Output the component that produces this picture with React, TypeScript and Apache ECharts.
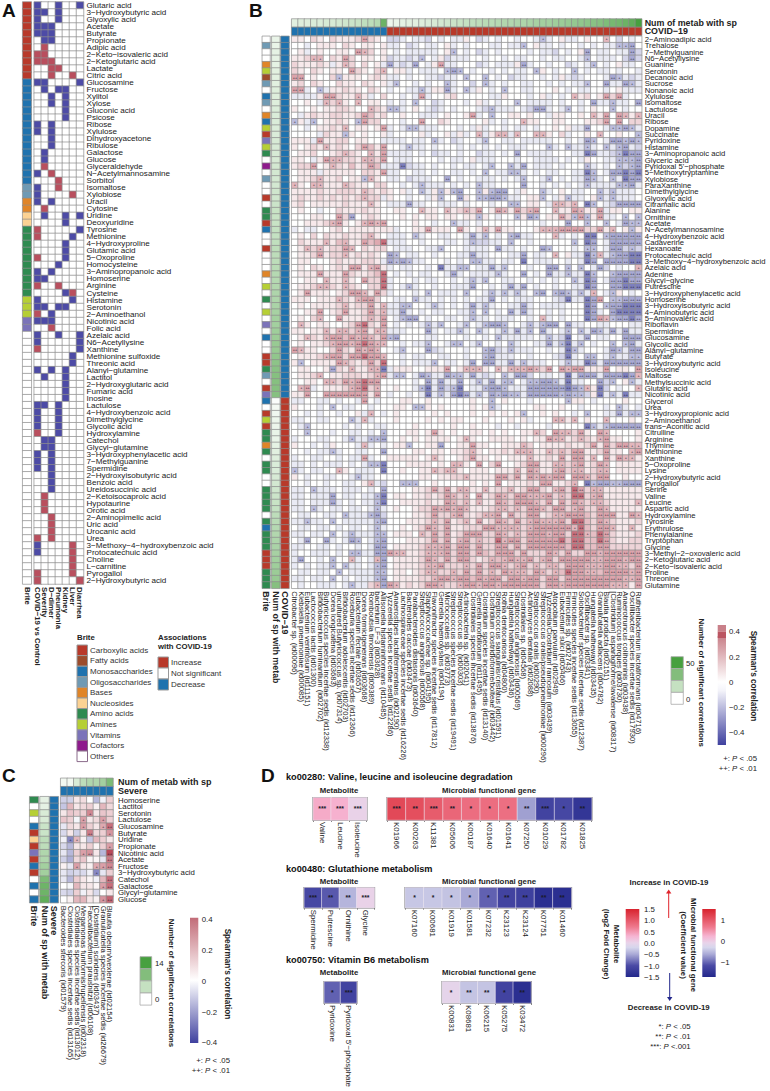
import React, { useEffect, useRef } from "react";
import * as echarts from "echarts";

const FONT = '"Liberation Sans", Arial, sans-serif';
const M = "\u2212";

// ---------- shared palettes ----------
const briteNames = ["Carboxylic acids","Fatty acids","Monosaccharides","Oligosaccharides","Bases","Nucleosides","Amino acids","Amines","Vitamins","Cofactors","Others"];
const briteColors: Record<string,string> = { C:"#b8392a", F:"#9c4c2c", M:"#1f72ae", O:"#6f9ab4", B:"#e08528", N:"#fcd293", A:"#2f8a50", H:"#b6cf35", V:"#7b73b9", K:"#8e1a8c", W:"#ffffff" };

// ---------- panel A ----------
const aRows = ["Glutaric acid","3-Hydroxybutyric acid","Glyoxylic acid","Acetate","Butyrate","Propionate","Adipic acid","2-Keto-isovaleric acid","2-Ketoglutaric acid","Lactate","Citric acid","Glucosamine","Fructose","Xylitol","Xylose","Gluconic acid","Psicose","Ribose","Xylulose","Dihydroxyacetone","Ribulose","Galactose","Glucose","Glyceraldehyde","N-Acetylmannosamine","Sorbitol","Isomaltose","Xylobiose","Uracil","Cytosine","Uridine","Deoxyuridine","Tyrosine","Methionine","4-Hydroxyproline","Glutamic acid","5-Oxoproline","Homocysteine","3-Aminopropanoic acid","Homoserine","Arginine","Cysteine","Histamine","Serotonin","2-Aminoethanol","Nicotinic acid","Folic acid","Azelaic acid","N6-Acetyllysine","Xanthine","Methionine sulfoxide","Threonic acid","Alanyl-glutamine","Lactitol","2-Hydroxyglutaric acid","Fumaric acid","Inosine","Lactulose","4-Hydroxybenzoic acid","Dimethylglycine","Glycolic acid","Hydroxylamine","Catechol","Glycyl-glutamine","3-Hydroxyphenylacetic acid","7-Methylguanine","Spermidine","2-Hydroxyisobutyric acid","Benzoic acid","Ureidosuccinic acid","2-Ketoisocaproic acid","Hypotaurine","Orotic acid","2-Aminopimelic acid","Uric acid","Urocanic acid","Urea","3-Methoxy-4-hydroxybenzoic acid","Protocatechuic acid","Choline","L-carnitine","Pyrogallol","2-Hydroxybutyric acid"];
const aCols = ["COVID-19 vs Control","Severity","D-dimer","Pneumonia","Kidney","Liver","Diarrhea"];
const aBrite = "CCCCCCCCCCCMMMMMMMMMMMMMMMOOBBNNAAAAAAAAAAHHHVV" + "W".repeat(36);
// one string per metabolite: . none, b decrease, r increase
const aAssoc = ["b..b..b","bb.b...","b..b...","bbb....","bbb....",".bb....",".r.....","rr.....","rrr....","..rr...","..r..r.","bb....b",".b.bb..","..b.b..","..b.b..","....b..","....b..","b.b....","b.b....","..b....","..b....",".b.....",".b.....",".r.....","b.r....","...r...","b..r...","b....r.","b.b....",".r.....",".b..b.b","....b..","r.....b","r....b.","....b..","....b..","r...b..","...b...","b.b....","bb.....","r..r...","....br.","b....b.","bb.bb..","r.b....","bbb....","..r....","b..b..b","b.....b","r.....b",".....b.",".....b.","b.b.b..",".b..b..","....b..","....b..","....b..","bb.b...","b..b...","b..b...","b..b...","r..b...",".bb....",".bb....","b.b....","b.b....","b.b....","..b....","..b....","..b....",".r.....",".r.....",".r.....","..r....","..r....","..r....","r.r....","b....r.","b....r.",".....r.",".....r.","r....r.","r.....r"];

// ---------- panel B ----------
const bRows = ["2-Aminoadipic acid","Trehalose","7-Methylguanine","N6-Acetyllysine","Guanine","Serotonin","Decanoic acid","Sucrose","Nonanoic acid","Xylulose","Isomaltose","Lactulose","Uracil","Ribose","Dopamine","Succinate","Pyridoxine","Histamine","3-Aminopropanoic acid","Glyceric acid","Pyridoxal 5'-phosphate","5-Methoxytryptamine","Xylobiose","ParaXanthine","Dimethylglycine","Glyoxylic acid","Citramalic acid","Alanine","Ornithine","Acetate","N-Acetylmannosamine","4-Hydroxybenzoic acid","Cadaverine","Hexanoate","Protocatechuic acid","3-Methoxy-4-hydroxybenzoic acid","Azelaic acid","Adenine","Glycyl-glycine","Putrescine","3-Hydroxyphenylacetic acid","Homoserine","3-Hydroxyisobutyric acid","4-Aminobutyric acid","5-Aminovaleric acid","Riboflavin","Spermidine","Glucosamine","Glycolic acid","Alanyl-glutamine","Butyrate","3-Hydroxybutyric acid","Isoleucine","Maltose","Methylsuccinic acid","Glutaric acid","Nicotinic acid","Glycerol","Urea","3-Hydroxypropionic acid","2-Aminoethanol","trans-Aconitic acid","Citrulline","Arginine","Thymine","Methionine","Xanthine","5-Oxoproline","Lysine","2-Hydroxybutyric acid","Pyrogallol","Serine","Valine","Leucine","Aspartic acid","Hydroxylamine","Tyrosine","Erythrulose","Phenylalanine","Tryptophan","Glycine","3-Methyl-2-oxovaleric acid","2-Ketoglutaric acid","2-Keto-isovaleric acid","Proline","Threonine","Glutamine"];
const bCols = ["Citrobacter sp. (id00096)","Klebsiella pneumoniae (id00085)","Eubacterium ventriosum (id11151)","Lactococcus lactis (id01300)","Bifidobacterium ruminantium (id02702)","Butyricicoccus species incertae sedis (id12338)","Dorea longicatena (id03683)","uncultured Butyricicoccus sp. (id07314)","Bifidobacterium adolescentis (id02703)","Roseburia species incertae sedis (id12366)","Eubacterium rectale (id03657)","Dorea formicigenerans (id03668)","Romboutsia timonensis (id09389)","bacterium LF-3 (id03628)","Allisonella histaminiformans (id10485)","Tyzzerella species incertae sedis (id12286)","Anaerostipes lactatifermentans (id02190)","Lachnospiraceae species incertae sedis (id16226)","Bacteroides caccae (id03473)","Parabacteroides distasonis (id03640)","Streptococcus anginosus (id00568)","Staphylococcaceae sp. (id04195)","Flavonifractor species incertae sedis (id17812)","Gemella haemolysans (id04194)","Micrococcales sp. (id03773)","Streptococcus species incertae sedis (id19491)","Streptococcus sp. (id00303)","Actinobacteria sp. (id02041)","Clostridiales species incertae sedis (id13876)","Gemella morbillorum (id11495)","Clostridium species incertae sedis (id13140)","Clostridium clostridioforme/bolteae (id03442)","Streptococcus sanguinis/cristatus (id01591)","Rothia dentocariosa (id04800)","Hungatella hathewayi (id03436)","Streptococcus anginosus (id00569)","Clostridiales sp. (id04568)","Actinomyces dentalis (id02088)","Streptococcus oralis (id00290)","Streptococcus oralis/pseudopneumoniae (id00296)","Tyzzerella/Clostridium ramosum (id03439)","Atopobium parvulum (id02949)","Eubacterium sulci (id05466)","Firmicutes sp. (id02743)","Firmicutes species incertae sedis (id13055)","Solobacterium species incertae sedis (id12387)","Oscillibacter sp. (id03341)","Hungatella hathewayi (id03435)","Granulicatella adiacens (id04782)","Blautia producta (id02151)","[Clostridium] asparagiforme/lavalense (id08317)","Ruminococcus torques (id03730)","Anaerotruncus colihominis (id03438)","Oscillibacter species incertae sedis (id17930)","Ruthenibacterium lactatiformans (id04716)"];
const bBrite = "WOWWBHFOWMOWBMHCVHAWKWOWWCWAACMWWCWWWBWHWAWHWVWMWWCCAOWCVMWCHCAABAWAAWWAAAAWAMAAACCCAAA".slice(0,87);
const bNumRow = [6,6,7,7,7,8,8,8,9,9,9,10,10,10,10,10,11,11,11,11,12,12,12,12,13,13,14,15,15,15,16,16,17,18,18,18,19,20,20,21,22,22,23,24,25,25,26,27,28,28,30,31,32,33,33,33,33,1,3,4,5,5,6,6,7,8,9,10,10,11,12,13,14,15,16,18,19,20,21,22,23,24,25,26,27,28,33];
const bNumCol = [8,9,9,10,10,11,11,12,13,14,15,17,18,20,40,5,6,7,8,8,9,10,11,12,13,14,15,16,17,18,19,19,20,21,21,22,22,23,24,25,25,26,27,28,29,30,31,32,33,35,37,38,40,43,50];
const bCovidCol = "b".repeat(15) + "r".repeat(40);
// background correlation per cell, digit d means (d-4)*0.045
const bCorr = [
"55465 46555 65654 22343 32434 33542 34344 34435 34533 45443 42434","44345 55465 45545 33423 43345 34344 43343 34453 34344 34343 33434","45345 44554 65645 43433 33345 34342 34344 44343 32434 56433 43332","55654 46556 45545 23323 44352 33344 34434 33443 43344 35433 34232","65556 53566 46453 53234 43543 34442 34333 54344 34423 43443 45334","65465 45545 65465 45534 33344 33434 43434 33445 43444 43433 43443",
"65454 46455 54565 33434 43323 34344 34342 33443 43532 34443 33323","56465 44655 46545 33443 43445 34424 33434 43344 34343 33444 33223","65346 35565 54654 34433 43553 34335 43434 43344 45434 33443 45333","33335 65655 65346 44343 43445 64444 43354 44345 34344 56453 63344","44543 56454 54554 34343 44234 44345 34344 44333 34344 34333 43342","54454 55665 44565 33345 43234 34443 23333 43243 34344 34544 34344",
"43565 56655 66756 44544 33345 44533 45445 54544 35544 54656 46554","35354 55654 56664 44344 44465 44444 53434 43554 45544 45565 44466","44345 56554 55454 34334 33344 43435 34434 33434 45453 33443 34333","44443 65565 45445 34444 53445 35344 35443 34444 54634 45434 45443","55532 55664 55443 33343 34434 23443 34433 43333 34434 33443 33233","54565 65654 65754 44343 34344 43434 34343 33444 43433 34343 33332",
"45564 45656 54555 33334 34233 43442 33434 34333 34443 33433 23322","55435 55466 56563 43334 44434 33453 33444 34433 33434 35443 33232","56654 56657 56673 33423 34344 34334 35443 34433 34344 44343 43222","45553 55555 46654 33443 34344 33434 34334 43434 33443 34343 22322","45565 55645 57654 33423 33443 43443 33434 33443 34343 33434 33222","65454 55566 55466 44343 43334 34344 33444 43443 43434 34333 33233",
"55556 55666 55656 54534 43545 35445 54544 35445 34543 34443 33334","56556 56565 65663 54434 43554 44544 45453 34554 43543 34543 33334","56455 55565 55654 33343 34433 34344 43443 34554 34666 43443 22332","45443 44655 56554 45544 55545 56564 45645 56654 45555 55553 55455","44455 44565 45654 44545 45545 54554 54344 55654 55565 54563 34443","44555 66654 56665 44445 44344 53343 44444 44443 44434 43443 43333",
"34334 45645 55555 53445 54555 44545 55555 44455 56666 56665 44545","45464 65565 56554 33343 34433 44343 34345 43344 43343 43443 22333","46555 65765 57786 33344 34443 34332 23343 44344 44443 43443 22322","45565 56665 46566 43334 43334 44333 34333 43443 34443 43443 33232","45565 56655 65654 33433 44344 43343 34443 33433 44453 34443 23222","45544 45655 56653 33333 34443 43443 33433 43433 34434 33443 22332",
"45465 45656 65665 34334 43433 33443 34344 44344 33444 44342 43443","45554 55566 55675 43434 33443 33433 33434 43434 43343 34344 22333","44554 45565 46664 34443 43344 34323 44433 44343 43443 34443 22322","45565 56556 54664 34343 44344 33334 43434 33434 43443 34344 22222","45655 54566 66566 34443 43433 34344 34343 33434 43443 43343 55434","55545 55665 56664 43343 33434 34343 33434 33344 43243 33434 22332",
"45455 55655 66654 33444 43334 34343 33443 34343 33344 43443 22222","44554 45665 56664 33434 34334 43334 34343 33344 34344 43434 22222","45464 44655 56664 43333 43443 34333 34333 44343 34344 43444 32222","46545 54456 67654 43434 34344 43343 33434 43432 23433 34433 44433","55455 65566 66565 33344 43343 34344 34343 33344 34344 43433 43233","45565 56676 67764 33444 43344 44344 34433 33343 33234 34433 44233",
"45455 66766 76664 44343 33443 33433 44343 34433 43333 34344 44233","65554 46665 66654 43344 43234 44344 33234 33344 34333 34443 43332","45556 66767 77654 44343 34433 44344 34333 44344 43233 44343 33344","55455 55666 56764 44343 33443 34344 33333 34333 44333 33433 23222","45544 54654 55654 35554 45556 45655 54555 56656 54666 55555 45545","45564 45566 65653 34343 33334 33343 23443 33243 34333 43333 22222",
"44554 56666 77754 44443 43323 33433 34333 43343 33323 34442 44533","45634 55565 76654 45443 54342 33433 43333 33332 23323 33532 43445","55644 66676 67544 34434 33343 33333 33343 33333 33332 32543 43433","33443 34344 35434 44554 45444 44454 44454 44344 44455 54344 44544","54443 45433 44344 45544 55454 44454 54344 44455 44544 34443 44343","44343 44344 53443 45444 44545 44454 45454 54445 45443 44443 33333",
"33443 34443 35344 45444 45454 55444 54445 45344 46454 45444 44454","43344 44434 34433 44445 44444 54454 44344 34444 34444 44433 22222","44344 43443 34343 44455 45554 54455 45454 45556 46656 55446 44445","34443 34434 33333 44545 45555 45654 45555 45455 56456 46556 55445","54434 35444 34343 45534 45554 45565 54455 55645 55565 56556 66556","44343 34344 33443 44445 54554 55655 45565 55455 56566 65565 55456",
"34433 44343 34344 55555 45554 45665 54545 55655 65656 45645 56655","33434 33343 43332 44455 55454 66545 46544 56645 56565 65665 45555","33433 44354 33342 44544 55565 55455 54555 55665 55566 65665 45555","54344 33443 43344 44444 55455 66555 55666 65656 66646 65666 44544","44344 34433 45332 44433 44544 44454 54645 55654 45565 45454 23333","33443 33433 34342 44445 56565 55555 55665 56656 56667 66665 55555",
"33433 34433 43342 45545 56565 56545 56666 65666 66667 76665 55555","33433 34343 43342 44555 56555 66655 55666 66656 65666 76656 55556","33443 43343 34343 45445 66566 66655 56566 56666 65667 66665 55555","43344 33433 33242 44445 56566 55656 56656 66655 66667 77666 65556","33433 43433 33343 44455 56565 56655 56666 66666 66667 77656 65556","43343 34343 34343 44545 66566 55666 66666 66666 66667 77667 65555",
"33433 43433 33342 45554 56566 56666 66566 66666 66667 77766 65556","43344 33433 34342 44455 56566 56666 66676 66666 66677 77766 65566","33443 34344 34332 45555 66666 66666 66676 66666 66677 77767 66666","34433 34343 33332 66655 66676 66666 76666 66666 66676 66666 66666","33443 43443 34342 45555 66566 66665 66766 66666 66766 66776 66666","34343 34433 34332 45555 66666 66566 66666 66666 66666 66666 66666",
"43343 34343 33342 45545 66566 66665 67666 56676 66766 66776 66666","33433 43434 33342 45555 66666 66676 66766 66666 66676 66676 66666","43443 33434 33652 66565 66676 66676 67767 66676 66666 66676 66656"];
// significant cells: column + kind (a/b/B positive +, ++, strong ++; x/y/Y negative +, ++, strong ++)
const bSig = [
"11b 39x 49a","36x 51x 52x 53y","10b 11a 25x 46y 53y","3a 4a 8b 20x 46x 53y","8a 15y 19y 23b 36y 47x","9b 14a 24x 25y 26x 38x 44x","0b 1b 7x 27x 30x 50y 51x","16x 24x 30x 46x 49y 52y 53x","0b 1b 4x 20x 24y 27x 33x","5b 6b 10a 20b 44a 49b 51b","5a 7a 10a 19x 35x 47y 50x 54y","12a 15x 16x 31x 38y 39y 43x 50x",
"11b 28b 31x 47a 49b 51b 52a 54a","0x 3x 10x 11b 20b 36a 49b 51b","8a 14b 18x 19x 46y 50x 51x 52y 53x","8x 29a 32a 33a 35a 38a 39a 48a 54x","4b 22x 30x 46y 47x 50y 51y 52x 53y 54x","5a 11b 14b 18x 40x 43x 46x 49x 51x 52y","8a 12a 14b 35y 46Y 47y 51x 52Y 53y 54y","5b 6a 7a 11a 12a 14b 51x 52x 53x 54y","3b 6a 12b 17Y 31x 34x 36y 46x 51x 53x 54y","14b 30x 34x 35x 46Y 47x 50y 51y 52Y 53y 54Y",
"4a 11x 12a 24y 36x 40x 46y 47x 50x 52Y 53y 54y","0a 3a 4a 8a 20x 29x 36y 46x 51x 52x 53y","11a 20x 23x 25x 26y 29x 31x 32y 33y 39x 48x 50x","11a 23x 26y 29x 30x 31y 32y 33x 39x 43x 48x 50x","12a 18y 34x 35x 41a 42a 44a 46Y 47x 51y 52y 53y 54y","20a 24a 27a 29b 32b 33a 35b 37a 38b 41a 44b 45a 48b","7b 9y 29x 35x 37y 38x 42b 44x 45b 46x 48b 52x 54x","6a 7b 11a 12b 13a 14b 25x 43y 46x 49x 52y 53x 54x","21b 26b 30a 32b 39a 40a 41a 42b 43b 44b 45b 48b 50a 53x",
"12a 19x 28y 30x 34x 35y 41a 46Y 47Y 49x 50y 51y 52y 53y 54y","5a 8a 11b 14B 28x 34x 44x 46Y 47y 50y 51y 52y 53y 54y","2a 4a 8b 9a 23x 32y 39y 40x 46x 47x 50y 51y 53x","4b 8a 15y 16x 28y 36y 41a 46Y 47x 48a 50x 51y 52y 53Y 54Y","15y 16x 17y 18x 28x 29x 36Y 46Y 47y 49y 50y 51y 52y 53Y 54Y","9b 10b 12a 13b 23Y 26x 27x 31y 33x 40y 41y 43x 45x 48y 54a","4b 8b 14B 25y 32x 36y 40y 43x 46Y 47x 50x 51y 52y 53y 54y","5a 8a 11b 14B 28x 30x 44x 46Y 47y 50y 51y 52Y 53y 54y","4a 5a 8a 14B 18x 28y 34y 36y 46Y 47y 50y 51y 52Y 53Y 54Y",
"2b 9b 10b 11a 13b 21x 27x 31x 33x 35x 38x 39y 41x 42y 43x 45x 47a 50x","7a 10a 11b 12b 19x 31y 43Y 46Y 47y 48b 50x 51x 52y 53y 54y","8a 12b 14a 17x 18x 22x 28y 30x 36y 46Y 47y 49x 50y 51y 52Y 53Y 54Y","4b 8b 12b 14a 17y 28x 30x 34y 36y 46Y 47y 50y 51Y 52Y 53Y 54Y","4a 7b 12a 14b 17x 18y 19y 28x 39a 46Y 47y 48b 49a 50x 51y 52y 53Y 54y","1a 10b 11B 14b 21x 23x 27x 30x 31y 32y 33x 37x 39x 40y 41y 43y","5a 7a 8a 10a 11b 13a 14a 21y 26x 29x 33x 35y 37x 39y 43x 45x 47y 48x 50y 52y",
"2a 5a 6b 7b 9b 10a 11b 12a 14b 15x 16y 32x 40x 43Y 46y 52y 53y 54y","6a 7b 8b 9a 10b 11B 12b 13a 14a 21x 25x 26x 29x 34x 40y 42x 43Y 45x 50x 52x 53y","0b 1a 7b 10b 11a 12b 13a 17x 21y 30x 31y 34x 43Y 44x 50y 51x 53y 54y","5a 6b 7b 9b 10b 11B 12b 13b 14a 30x 31y 43Y 46x 47x 50x 53x 54x","1x 7b 8a 12b 14B 22x 28y 30y 31y 34y 36x 43x 46Y 47y 49y 50y 51y 52y 53y 54y","6y 9a 12a 13a 14Y 24b 27a 28a 29a 32a 34a 35a 36a 37b 38a 40b 42b 43a 44b 45b 49b 54b",
"4a 13a 14b 16x 17x 20y 21x 24y 25x 26x 28y 33x 35y 36y 43Y 45y 46y 47y 49y 50y 51y 52Y 53y 54a","5a 6a 8b 9a 10b 11B 12b 13b 21y 23y 26y 29x 31y 33x 34x 37x 38x 39y 40y 41x 43Y 48y 50x 53x","1a 2b 9a 10b 11B 13a 20x 21Y 23y 25x 26Y 30x 31y 32y 33x 37y 38y 39y 40y 41y 42y 43Y 44y 45x 46a 48Y 54a","2b 5b 6b 7b 8b 9b 10b 11b 13b 21Y 23x 25y 26Y 27y 29x 31y 32x 33y 34x 35x 37y 38y 39y 40y 41y 42x 43y 44x 45x 48Y 50x 52Y",
"11b 31x 43x","6x 19x 20x 31x 51x","12a 36x 46x 51y 53x 54x","9x 11a 41a 42a 44a 49a","2x 46Y 47x 49x 50y 51y 52y 53y 54y","2x 14x 22b 38a 41b 42a 43a 45b 48b 49a","9x 12x 13x 14y 27a 40b 41a 42a 45a 48a 49b","11a 18x 23y 28b 36a 47b 49b 51b 52b 53a 54a","6x 14y 28a 35a 36a 37a 40a 42a 44b 45b 49b 53a 54b","11b 22a 28b 37a 42b 44b 45b 47a 49b 51b 52a 53a",
"12x 13x 14Y 25a 26a 29b 32b 37b 38b 41a 42a 44a 45b 48b 49a","0x 7a 14Y 22a 24a 25a 35a 37b 38a 41a 42b 44a 45a 48a 49a","10x 27a 32b 33b 35b 37b 38a 39b 40a 41b 42b 44b 45b 46a 48b 49b","12a 17x 18x 19x 32b 39b 40b 44a 46Y 47x 48y 49y 50x 51x 52y 53y 54y","3x 14y 22b 24b 26a 27a 30a 34a 37b 38b 41a 42b 44B 45b 47a 48a","6y 13x 14Y 24b 25a 27a 29b 32b 33a 35b 36b 37a 38a 39a 40b 42a 44B 45B 47a 48b",
"6y 13x 14Y 24b 25a 27a 29a 32b 33a 35b 36b 37b 38a 40b 42b 44b 45a 47a 48a 54a","3x 13x 22b 23a 24b 25a 26b 27a 32a 33a 35a 37b 38b 39a 41b 42b 44a 45b 48b 49a","8x 12x 13y 22b 25a 26b 30a 31a 32b 34b 37b 38b 41a 42a 43b 44b 45b 48b 49b 50b 53b 54a","2x 6x 13x 14y 22a 24b 27a 29b 32b 33a 35b 37a 38b 39a 40a 41a 42b 44B 45B 48b 49a","13x 21b 22a 24b 30b 31b 32a 33a 34a 35a 37a 38b 39b 40b 41b 42b 43b 44a 45B 48b 49b 50a 53a",
"6x 9x 13x 14x 20a 22b 24b 27b 28b 29b 32b 33a 35a 37b 38b 39b 40a 41b 42b 44B 45B 46a 48B 49b","2y 5y 9y 10x 13x 14y 22b 24b 26a 27b 29a 32B 33a 34b 35b 37b 38b 39b 40b 41b 42B 44B 45B 48B 49b","13y 14y 21a 22a 23a 24b 26b 27b 29b 32b 33b 35b 37b 38b 39b 40b 41b 42b 44B 45B 48b 49b",
"9x 10x 13y 14y 15b 16a 17a 21a 22a 23a 24b 26b 27b 29b 32b 33b 34b 36b 40b 41a 43b 46b 47b 48a 49b 50b 51b 52b 53b 54b","1y 6x 9a 13a 14y 21b 22a 24b 26b 27b 31a 33a 34b 35a 36a 37b 39a 40b 42b 43b 44b 45b 46b 47a 48a 49b 50b 51b 52a 53b 54b","6x 8x 13x 14y 21a 22a 23b 27a 29b 31b 32b 33a 35a 36b 38a 40a 41a 43b 44b 45b 46a 47a 48a 49b 50b 51a 52a 54b","7x 13x 14x 21a 22a 25a 27b 29b 31a 33b 34a 35a 36a 38b 39a 41a 43B 44b 45b 46a 47a 49b 50b 51b 52b 53a 54b","6x 13x 14y 22a 23b 24b 25a 26b 27b 29b 30a 31b 32b 34b 35b 36a 37b 38b 40b 41b 43b 44b 45b 46b 47b 48b 49b 50b 51b 52a 53a 54b","9x 13a 14y 15b 16a 21b 22b 23a 26a 27b 28b 29a 30b 31b 32a 33b 34b 35b 36b 37b 38b 40b 41b 42a 43b 44b 45b 46b 47b 48b 49b 50a 51a 52a 54b"];
const sigValues: Record<string,[number,string]> = { a:[0.15,"+"], b:[0.19,"++"], B:[0.3,"++"], x:[-0.14,"+"], y:[-0.18,"++"], Y:[-0.27,"++"] };

// ---------- panel C ----------
const cRows = ["Homoserine","Lactitol","Serotonin","Lactulose","Glucosamine","Butyrate","Uridine","Propionate","Nicotinic acid","Acetate","Fructose","3-Hydroxybutyric acid","Catechol","Galactose","Glycyl-glutamine","Glucose"];
const cCols = ["Bacteroides stercoris (id01579)","Clostridiales species incertae sedis (id13165)","Clostridiales species incertae sedis (id13012)","Megamonas funiformis/rupellensis (id02318)","Faecalibacterium prausnitzii (id06108)","[Clostridium] scindens (id03437)","Granulicatella species incertae sedis (id26679)","Blautia obeum/wexlerae (id02154)"];
const cBrite = "AWHWMCNCVCMCWMWM";
const cNumRow = [2,2,3,3,4,4,5,5,6,6,7,7,10,11,11,12];
const cNumCol = [1,1,3,5,6,6,7,10];
const cCorr = [
[-.1,-.1,.05,.07,0,-.15,-.03,.1],[-.12,.15,.05,.08,.1,.03,.15,.08],[.05,.12,.1,.1,.25,.05,.12,.1],[.12,.1,-.02,.2,.05,.08,.2,.1],
[-.05,.08,.05,.2,.1,.05,.18,.3],[-.08,.05,-.1,.05,.27,.08,.1,.22],[-.03,-.25,.15,.03,-.12,.15,.1,.05],[-.08,-.15,.05,.05,.1,.02,.1,.2],
[-.05,-.15,.1,.2,.22,.05,-.15,.38],[-.1,-.17,.08,.12,.02,.02,-.05,.28],[.03,-.05,.2,.05,.03,.18,.2,.25],[-.05,-.1,-.08,-.08,-.03,-.25,-.05,.1],
[-.05,-.15,.1,.05,.02,-.03,.15,.3],[0,-.02,.15,.05,.05,.02,.2,.3],[-.08,-.1,.1,-.03,.05,-.08,0,.05],[0,.03,.15,.15,.05,.03,.22,.32]];
const cMarks = ["........","........","....+...","...+..+.","...+..+#","....#..+",".++.....",".......+","...+#..#",".......#","..+..++#",".....+..",".......#","......+#","........","......+#"];

// ---------- panel D ----------
const dColorStops: [number,string][] = [[-1.5,"#23288c"],[-1,"#4a4aa5"],[-.5,"#a9a9d6"],[-.2,"#d6d6ec"],[0,"#e8d4ea"],[.3,"#f6b4d2"],[.7,"#ef7a8e"],[1.5,"#d8232e"]];
const d1Met = ["Valine","Leucine","Isoleucine"]; const d1MetV = [.36,.32,.02]; const d1MetS = ["***","***","***"];
const d1Gen = ["K01966","K00263","K11381","K05606","K00187","K01640","K01641","K07250","K01029","K01782","K01825"];
const d1GenV = [1.15,1.1,.98,.88,.82,.82,.8,-.55,-1.1,-1.05,-1.3]; const d1GenS = ["***","**","***","**","*","*","*","**","***","*","**"];
const d2Met = ["Spermidine","Putrescine","Ornithine","Glycine"]; const d2MetV = [-1.05,-.92,-.42,.02]; const d2MetS = ["***","**","**","***"];
const d2Gen = ["K07160","K00681","K01919","K01581","K07232","K23123","K23124","K07751","K01460"];
const d2GenV = [-.3,-.3,-.33,-.5,-.88,-1.1,-1.15,-1.4,-1.4]; const d2GenS = ["*","*","*","*","*","**","**","**","**"];
const d3Met = ["Pyridoxine","Pyridoxal 5'-phosphate"]; const d3MetV = [-.88,-1.1]; const d3MetS = ["*","***"];
const d3Gen = ["K00831","K08681","K06215","K05275","K03472"]; const d3GenV = [-.03,-.32,-.32,-1.1,-1.4]; const d3GenS = ["*","**","**","*","**"];

// ---------- helpers ----------
const dash = (s: string) => s.replace(/-/g, M);
const hex = (c: string) => [1,3,5].map(i => parseInt(c.slice(i,i+2),16));
const mix = (a: string, b: string, t: number) => { const x = hex(a), y = hex(b); return `rgb(${x.map((v,i)=>Math.round(v+(y[i]-v)*t)).join(",")})`; };
const corrColor = (v: number) => { const t = Math.min(1, Math.abs(v)/.4); return v<0 ? mix("#ffffff","#3f419f",t) : mix("#ffffff","#b53f50",t); };
const greenColor = (v: number, max: number) => mix("#ffffff","#47a03f",Math.min(1,v/max));
const dColor = (v: number) => { const s = dColorStops; for (let i=1;i<s.length;i++) if (v<=s[i][0]) return mix(s[i-1][1],s[i][1],(v-s[i-1][0])/(s[i][0]-s[i-1][0])); return s[s.length-1][1]; };

function buildOption() {
  const grid: any[] = [], xAxis: any[] = [], yAxis: any[] = [], series: any[] = [], visualMap: any[] = [], g: any[] = [];
  const heat = (c: any) => {
    const i = grid.length;
    grid.push({ left:c.x0, top:c.y0, width:c.x1-c.x0, height:c.y1-c.y0, show:!!c.gridBorder, borderColor:c.gridBorder, borderWidth:1.6, containLabel:false });
    xAxis.push({ type:"category", gridIndex:i, data:c.xs, position:"bottom", axisLine:{show:false}, axisTick:{show:!!c.ticks,length:2,lineStyle:{color:"#555",width:.7}}, splitLine:{show:false},
      axisLabel:{ show:!!c.xLabels, interval:0, rotate:-90, margin:c.xMargin??3, fontSize:c.xFont??7.6, fontWeight:c.xWeight??"normal", color:"#222", fontFamily:FONT, hideOverlap:false } });
    yAxis.push({ type:"category", gridIndex:i, data:c.ys, inverse:true, position:"right", axisLine:{show:false}, axisTick:{show:false}, splitLine:{show:false},
      axisLabel:{ show:!!c.yLabels, interval:0, margin:c.yMargin??3, fontSize:c.yFont??7.8, fontWeight:c.yWeight??"normal", color:"#222", fontFamily:FONT, hideOverlap:false } });
    // each distinct colour of this panel becomes one piece of its visualMap
    const palette: string[] = [];
    const data = c.cells.map((it: any) => {
      let k = palette.indexOf(it.color);
      if (k < 0) { k = palette.length; palette.push(it.color); }
      const item: any = { value:[it.x,it.y,k] };
      if (it.mark) item.label = { show:true, formatter:it.mark, fontSize:it.size, fontWeight:it.weight, color:"#1a1a2a", fontFamily:FONT };
      return item;
    });
    visualMap.push({ type:"piecewise", show:false, seriesIndex:i, dimension:2, pieces:palette.map((color,k)=>({ value:k, color })) });
    series.push({ type:"heatmap", xAxisIndex:i, yAxisIndex:i, data, progressive:0, silent:true, itemStyle:{ borderColor:c.border??"#8e8e8e", borderWidth:c.borderWidth??.7 }, emphasis:{disabled:true} });
  };
  const cell = (x:number,y:number,color:string,mark?:string,size=3.8,weight="normal") => ({ x, y, color, mark, size, weight });
  const T = (text:string,x:number,y:number,o:any={}) => g.push({ type:"text", x, y, rotation:o.rot?-Math.PI/2:0, silent:true, z:5,
    style:{ text, fill:o.fill??"#222", fontSize:o.size??7.8, fontWeight:o.bold?"bold":"normal", fontFamily:FONT, align:o.align??"left", verticalAlign:"middle", rich:o.rich } });
  const R = (x:number,y:number,w:number,h:number,fill:any,stroke="#999",lw=1) => g.push({ type:"rect", shape:{x,y,width:w,height:h}, silent:true, style:{fill,stroke,lineWidth:lw} });
  const pLine = (prefix:string,rest:string,x:number,y:number) => T(`{a|${prefix}: }{i|P}{a|${rest}}`,x,y,{ align:"right", rich:{ a:{fontSize:7.8,fontFamily:FONT,fill:"#222"}, i:{fontSize:7.8,fontFamily:FONT,fontStyle:"italic",fill:"#222"} } });

  // panel letters
  [["A",2,10],["B",249,10],["C",2,775],["D",261,775]].forEach(([t,x,y]:any)=>T(t,x,y,{size:19,bold:true,fill:"#111"}));

  // ---- A ----
  const aY = aRows.map(dash);
  heat({ x0:22.7,x1:31.3,y0:2,y1:584, xs:["Brite"], ys:aY, xLabels:true, xWeight:"bold", xFont:7.8,
    cells:aRows.map((_,r)=>cell(0,r,briteColors[aBrite[r]])) });
  heat({ x0:34.2,x1:83.5,y0:2,y1:584, xs:aCols.map(dash), ys:aY, xLabels:true, yLabels:true, xWeight:"bold", xFont:7.8, yFont:8.1,
    cells:aAssoc.flatMap((s,r)=>s.split("").map((ch,c)=>cell(c,r,ch==="b"?"#4d4ba6":ch==="r"?"#b94f5e":"#ffffff"))) });
  T("Brite",77,637,{bold:true,size:7.8});
  briteNames.forEach((n,i)=>{ const y=645+i*10.6; R(77,y,10.5,10.6,briteColors["CFMOBNAHVKW"[i]],i===9||i===10?"#8a6a8a":"#999"); T(n,90,y+5.3,{size:8,fill:"#333"}); });
  T("Associations",158,637,{bold:true,size:7.8}); T("with COVID-19",158,646.5,{bold:true,size:7.8});
  [["Increase","#b8392a"],["Not significant","#ffffff"],["Decrease","#1f72ae"]].forEach(([n,c],i)=>{ const y=657+i*11; R(158,y,10.5,11,c); T(n,171,y+5.5,{size:8,fill:"#333"}); });

  // ---- B ----
  const bXT = 291.7, bXR = 641.7, bYT = 36.3, bYB = 588.3;
  const bY = bRows.map(dash);
  const bX = bCols.map(dash);
  heat({ x0:bXT,x1:bXR,y0:19,y1:27, xs:bX, ys:["Num of metab with sp"], yLabels:true, yWeight:"bold", yFont:8.9,
    cells:bNumCol.map((v,c)=>cell(c,0,greenColor(v,50))) });
  heat({ x0:bXT,x1:bXR,y0:27.4,y1:35.4, xs:bX, ys:["COVID"+M+"19"], yLabels:true, yWeight:"bold", yFont:8.9, border:"#888",
    cells:bCovidCol.split("").map((ch,c)=>cell(c,0,ch==="b"?"#1f72ae":"#b8392a")) });
  heat({ x0:262.3,x1:270,y0:bYT,y1:bYB, xs:["Brite"], ys:bY, xLabels:true, xWeight:"bold", xFont:8.9,
    cells:bRows.map((_,r)=>cell(0,r,briteColors[bBrite[r]||"W"])) });
  heat({ x0:271.8,x1:279.8,y0:bYT,y1:bYB, xs:["Num of sp with metab"], ys:bY, xLabels:true, xWeight:"bold", xFont:8.9,
    cells:bRows.map((_,r)=>cell(0,r,greenColor(bNumRow[r],50))) });
  heat({ x0:281,x1:289,y0:bYT,y1:bYB, xs:["COVID"+M+"19"], ys:bY, xLabels:true, xWeight:"bold", xFont:8.9, border:"#8a8a8a",
    cells:bRows.map((_,r)=>cell(0,r,r<57?"#1f72ae":"#b8392a")) });
  const bCells: any[] = [];
  bCorr.forEach((raw,r)=>{
    const digits = raw.replace(/ /g,"");
    const sig: Record<number,string> = {};
    (bSig[r]||"").split(" ").filter(Boolean).forEach(tok=>{ sig[parseInt(tok,10)] = tok[tok.length-1]; });
    for (let c=0;c<55;c++) {
      const s = sig[c] ? sigValues[sig[c]] : null;
      const v = s ? s[0] : (Number(digits[c])-4)*.045;
      bCells.push(cell(c,r,corrColor(v),s?s[1]:undefined));
    }
  });
  heat({ x0:bXT,x1:bXR,y0:bYT,y1:bYB, xs:bX, ys:bY, xLabels:true, yLabels:true, cells:bCells, xFont:7.6, yFont:7.7, xMargin:3 });
  // B legends
  const grad = (stops:[number,string][]) => new echarts.graphic.LinearGradient(0,0,0,1,stops.map(([offset,color])=>({offset,color})));
  const corrStops:[number,string][] = [[0,"#c26c78"],[.5,"#ffffff"],[1,"#3f419f"]];
  R(717.7,636,8.3,109,grad([[0,"#c87f88"],[.42,"#ffffff"],[.5,"#f4f4fa"],[1,"#3f419f"]]),"none",0);
  R(717.7,625,8.3,6.5,"#c98089","none",0); R(717.7,631.5,8.3,6.5,"#bb5561","none",0);
  [["0.4",631],["0.2",657],["0",682],[M+"0.2",707.7],[M+"0.4",732.7]].forEach(([t,y]:any)=>T(t,729,y,{size:7.8}));
  T("Spearman's correlation",753,676,{rot:true,bold:true,size:8.2,align:"center"});
  T("Number of significant correlations",701,682.7,{rot:true,bold:true,size:7.9,align:"center"});
  const greens = ["#47a03f","#83bd7c","#c5e1c1","#ffffff"];
  greens.forEach((c,i)=>R(671,656.7+i*11.9,12.3,11.9,c,"#aaa",.8));
  T("50",686,663,{size:7.8}); T("0",686,699,{size:7.8});
  pLine("+"," < .05",757,758); pLine("++"," < .01",757,768);

  // ---- C ----
  const cY = cRows.map(dash), cX = cCols;
  heat({ x0:60.7,x1:113,y0:778.3,y1:786.3, xs:cX, ys:["Num of metab with sp"], yLabels:true, yWeight:"bold", yFont:9, yMargin:5,
    cells:cNumCol.map((v,c)=>cell(c,0,greenColor(v,14))) });
  heat({ x0:60.7,x1:113,y0:786.7,y1:795.3, xs:cX, ys:["Severe"], yLabels:true, yWeight:"bold", yFont:9, yMargin:5,
    cells:cCols.map((_,c)=>cell(c,0,"#1f72ae")) });
  heat({ x0:29.7,x1:38.3,y0:796.7,y1:902.7, xs:["Brite"], ys:cY, xLabels:true, xWeight:"bold", xFont:9,
    cells:cRows.map((_,r)=>cell(0,r,briteColors[cBrite[r]])) });
  heat({ x0:40,x1:49,y0:796.7,y1:902.7, xs:["Num of sp with metab"], ys:cY, xLabels:true, xWeight:"bold", xFont:9,
    cells:cRows.map((_,r)=>cell(0,r,greenColor(cNumRow[r],14))) });
  heat({ x0:50,x1:58.3,y0:796.7,y1:902.7, xs:["Severe"], ys:cY, xLabels:true, xWeight:"bold", xFont:9,
    cells:cRows.map((_,r)=>cell(0,r,"#1f72ae")) });
  heat({ x0:60.7,x1:113,y0:796.7,y1:902.7, xs:cX, ys:cY, xLabels:true, yLabels:true, xFont:7.7, yFont:7.8, yMargin:5,
    cells:cCorr.flatMap((row,r)=>row.map((v,c)=>{ const m=cMarks[r][c]; return cell(c,r,corrColor(v),m==="+"?"+":m==="#"?"++":undefined,4.2); })) });
  R(190,917.7,8.3,125.3,grad(corrStops),"none",0);
  [["0.4",919],["0.2",950],["0",981],[M+"0.2",1012],[M+"0.4",1042.7]].forEach(([t,y]:any)=>T(t,201.7,y,{size:7.8}));
  T("Spearman's correlation",227,974,{rot:true,bold:true,size:8.2,align:"center"});
  T("Number of significant correlations",171.7,983,{rot:true,bold:true,size:7.9,align:"center"});
  greens.forEach((c,i)=>R(140,956.7+i*12.1,11.7,12.1,c,"#aaa",.8));
  T("14",155,963,{size:7.8}); T("0",155,999,{size:7.8});
  pLine("+"," < .05",230,1060); pLine("++"," < .01",230,1070);

  // ---- D ----
  const dPanel = (title:string,tY:number,hY:number,y0:number,y1:number,mx:[number,number],gx:[number,number],met:string[],metV:number[],metS:string[],gen:string[],genV:number[],genS:string[]) => {
    T(title,286,tY,{bold:true,size:9.2,fill:"#111"});
    T("Metabolite",339,hY,{bold:true,size:7.8,align:"center"});
    T("Microbial functional gene",489,hY,{bold:true,size:7.8,align:"center"});
    const one = (xr:[number,number],names:string[],vals:number[],sig:string[]) =>
      heat({ x0:xr[0],x1:xr[1],y0,y1, xs:names.map(dash), ys:["v"], xLabels:true, xFont:7.9, xMargin:2, ticks:true, border:"#ece6f0", borderWidth:.6, gridBorder:"#5a5a5a",
        cells:vals.map((v,c)=>cell(c,0,dColor(v),sig[c],6.8,"bold")) });
    one(mx,met,metV,metS); one(gx,gen,genV,genS);
  };
  dPanel("ko00280: Valine, leucine and isoleucine degradation",777,790.7,797.7,820,[313.3,366.7],[387.3,591.7],d1Met,d1MetV,d1MetS,d1Gen,d1GenV,d1GenS);
  dPanel("ko00480: Glutathione metabolism",869,881,887.7,907.7,[304.3,374.3],[405.3,571.3],d2Met,d2MetV,d2MetS,d2Gen,d2GenV,d2GenS);
  dPanel("ko00750: Vitamin B6 metabolism",960,972.7,981.7,1003,[324.3,356.7],[442.3,531],d3Met,d3MetV,d3MetS,d3Gen,d3GenV,d3GenS);
  const dGrad = grad(dColorStops.slice().reverse().map(([v,c])=>[(1.5-v)/3,c] as [number,string]));
  R(625.7,909,13.6,68,dGrad,"none",0); R(702.3,909,13.4,68,dGrad,"none",0);
  [["1.5",0],["1.0",1],["0.5",2],["0.0",3],[M+"0.5",4],[M+"1.0",5],[M+"1.5",6]].forEach(([t,i]:any)=>T(t,644,909.5+i*11.3,{size:7.8}));
  [["1",920],["0",941],[M+"1",962]].forEach(([t,y]:any)=>T(t,720.7,y,{size:7.8}));
  T("Metabolite",616,944,{rot:true,bold:true,size:7.8,align:"center"});
  T("(log2 Fold Change)",606,944,{rot:true,bold:true,size:7.8,align:"center"});
  T("Microbial functional gene",693,945,{rot:true,bold:true,size:7.8,align:"center"});
  T("(Coefficient value)",683,945,{rot:true,bold:true,size:7.8,align:"center"});
  T("Increase in COVID-19",669,882.7,{bold:true,size:7.8,align:"center"});
  T("Decrease in COVID-19",668.7,1007,{bold:true,size:7.8,align:"center"});
  g.push({ type:"line", silent:true, shape:{x1:668.7,y1:918,x2:668.7,y2:892}, style:{stroke:"#e0242c",lineWidth:1} });
  g.push({ type:"polygon", silent:true, shape:{points:[[668.7,889.5],[666,893.5],[671.4,893.5]]}, style:{fill:"#e0242c"} });
  g.push({ type:"line", silent:true, shape:{x1:669.7,y1:973,x2:669.7,y2:998}, style:{stroke:"#23288c",lineWidth:1} });
  g.push({ type:"polygon", silent:true, shape:{points:[[669.7,1001],[667,997],[672.4,997]]}, style:{fill:"#23288c"} });
  pLine("*"," < .05",690.7,1026.7); pLine("**"," < .01",690.7,1036); pLine("***"," <.001",690.7,1046);

  return { animation:false, backgroundColor:"#ffffff", textStyle:{fontFamily:FONT}, grid, xAxis, yAxis, series, visualMap, graphic:g };
}

export default function App() {
  const ref = useRef<HTMLDivElement>(null);
  useEffect(() => {
    document.body.style.margin = "0";
    const chart = echarts.init(ref.current!, undefined, { renderer:"svg" });
    chart.setOption(buildOption() as any);
    return () => chart.dispose();
  }, []);
  return <div ref={ref} style={{ position:"absolute", left:0, top:0, width:770, height:1091, background:"#fff" }} />;
}
